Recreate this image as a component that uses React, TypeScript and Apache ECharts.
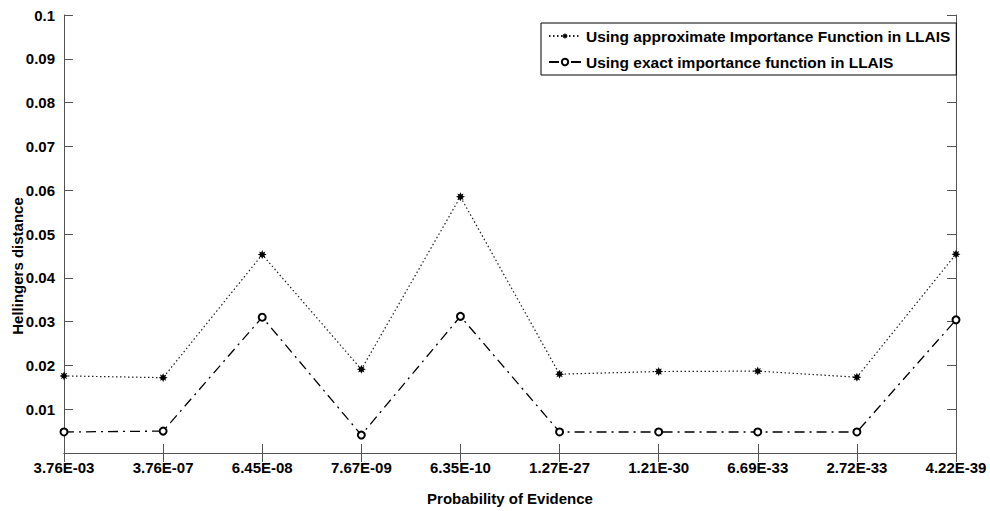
import React, { useEffect, useRef } from "react";
import * as echarts from "echarts";

const categories = [
  "3.76E-03", "3.76E-07", "6.45E-08", "7.67E-09", "6.35E-10",
  "1.27E-27", "1.21E-30", "6.69E-33", "2.72E-33", "4.22E-39",
];
const approxValues = [0.0176, 0.0172, 0.0453, 0.0191, 0.0585, 0.0180, 0.0186, 0.0187, 0.0173, 0.0454];
const exactValues = [0.0048, 0.0050, 0.0310, 0.0041, 0.0312, 0.0048, 0.0048, 0.0048, 0.0048, 0.0304];
const seriesNames = [
  "Using approximate Importance Function in LLAIS",
  "Using exact importance function in LLAIS",
];
const yTicks = [0, 0.01, 0.02, 0.03, 0.04, 0.05, 0.06, 0.07, 0.08, 0.09, 0.1];

const FONT = "'Liberation Sans', Arial, Helvetica, sans-serif";
const AXIS_COLOR = "#555";
const STAR =
  "path://M0,-5 L1.1,-2.4 L3.5,-3.5 L2.4,-1.1 L5,0 L2.4,1.1 L3.5,3.5 L1.1,2.4 L0,5 L-1.1,2.4 L-3.5,3.5 L-2.4,1.1 L-5,0 L-2.4,-1.1 L-3.5,-3.5 L-1.1,-2.4 Z";

export default function App() {
  const ref = useRef<HTMLDivElement>(null);
  useEffect(() => {
    if (!ref.current) return;
    const chart = echarts.init(ref.current, null, { renderer: "svg" });
    const yMin = yTicks[0];
    const yMax = yTicks[yTicks.length - 1];
    const labelStyle = { fontFamily: FONT, fontWeight: "bold", fontSize: 15, color: "#000" };
    const option = {
      animation: false,
      backgroundColor: "#fff",
      grid: { left: 64, right: 34, top: 15, bottom: 46, containLabel: false },
      legend: {
        left: 541,
        top: 23,
        orient: "vertical",
        backgroundColor: "#fff",
        borderColor: "#000",
        borderWidth: 1,
        padding: [5, 6, 5, 7],
        itemWidth: 32,
        itemHeight: 8,
        itemGap: 10,
        textStyle: { fontFamily: FONT, fontWeight: "bold", fontSize: 15.5, color: "#000" },
        data: seriesNames,
      },
      xAxis: [
        {
          type: "category",
          data: categories,
          boundaryGap: false,
          position: "bottom",
          name: "Probability of Evidence",
          nameLocation: "middle",
          nameGap: 38,
          nameTextStyle: labelStyle,
          axisLine: { show: true, lineStyle: { color: AXIS_COLOR, width: 1 } },
          axisTick: { show: true, inside: true, length: 9, alignWithLabel: true, lineStyle: { color: AXIS_COLOR } },
          axisLabel: { show: true, margin: 7, interval: 0, ...labelStyle },
          splitLine: { show: false },
        },
        {
          type: "category",
          data: categories,
          boundaryGap: false,
          position: "top",
          axisLine: { show: true, lineStyle: { color: AXIS_COLOR, width: 1 } },
          axisTick: { show: true, inside: true, length: 9, interval: 0, lineStyle: { color: AXIS_COLOR } },
          axisLabel: { show: false },
          splitLine: { show: false },
        },
      ],
      yAxis: [
        {
          type: "value",
          min: yMin,
          max: yMax,
          interval: 0.01,
          position: "left",
          axisLine: { show: true, lineStyle: { color: AXIS_COLOR, width: 1 } },
          axisTick: { show: true, inside: true, length: 9, lineStyle: { color: AXIS_COLOR } },
          axisLabel: {
            show: true,
            margin: 9,
            ...labelStyle,
            formatter: (v: number) => (v === 0 ? "" : String(parseFloat(v.toFixed(2)))),
          },
          splitLine: { show: false },
        },
        {
          type: "value",
          min: yMin,
          max: yMax,
          interval: 0.01,
          position: "right",
          axisLine: { show: true, lineStyle: { color: AXIS_COLOR, width: 1 } },
          axisTick: { show: true, inside: true, length: 9, lineStyle: { color: AXIS_COLOR } },
          axisLabel: { show: false },
          splitLine: { show: false },
        },
      ],
      graphic: [
        {
          type: "text",
          x: 17,
          y: 266,
          rotation: Math.PI / 2,
          style: {
            text: "Hellingers distance",
            fontFamily: FONT,
            fontWeight: "bold",
            fontSize: 15,
            fill: "#000",
            align: "center",
            verticalAlign: "middle",
          },
        },
      ],
      series: [
        {
          name: seriesNames[0],
          type: "line",
          xAxisIndex: 0,
          yAxisIndex: 0,
          data: approxValues,
          symbol: STAR,
          symbolSize: 9,
          itemStyle: { color: "#000" },
          lineStyle: { color: "#222", width: 1.2, type: [1.5, 2.5] },
          z: 3,
        },
        {
          name: seriesNames[1],
          type: "line",
          xAxisIndex: 0,
          yAxisIndex: 0,
          data: exactValues,
          symbol: "emptyCircle",
          symbolSize: 7,
          itemStyle: { color: "#000", borderWidth: 1.3 },
          lineStyle: { color: "#000", width: 1.3, type: [10, 5, 2, 5] },
          z: 3,
        },
      ],
    };
    chart.setOption(option as any);
    return () => chart.dispose();
  }, []);
  return (
    <div
      ref={ref}
      style={{ position: "fixed", left: 0, top: 0, width: 990, height: 511, background: "#fff" }}
    />
  );
}
